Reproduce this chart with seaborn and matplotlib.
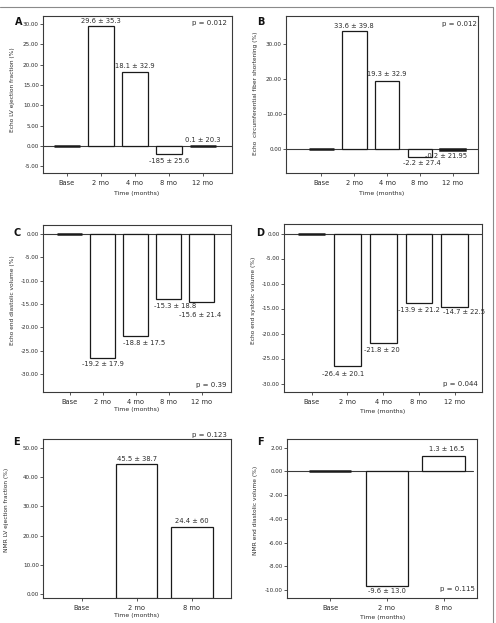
import numpy as np
import pandas as pd
import matplotlib
matplotlib.use("Agg")
import matplotlib.pyplot as plt
import seaborn as sns
from matplotlib.lines import Line2D

# ---------------- data ----------------
cats5 = ["Base", "2 mo", "4 mo", "8 mo", "12 mo"]
cats3 = ["Base", "2 mo", "8 mo"]

a_vals = [0.0, 29.6, 18.1, -1.85, 0.1]
a_text = ["", "29.6 ± 35.3", "18.1 ± 32.9", "-185 ± 25.6", "0.1 ± 20.3"]
b_vals = [0.0, 33.6, 19.3, -2.2, -0.2]
b_text = ["", "33.6 ± 39.8", "19.3 ± 32.9", "-2.2 ± 27.4", "-0.2 ± 21.95"]
c_vals = [0.0, -26.5, -21.9, -14.0, -14.6]
c_text = ["", "-19.2 ± 17.9", "-18.8 ± 17.5", "-15.3 ± 18.8", "-15.6 ± 21.4"]
d_vals = [0.0, -26.4, -21.8, -13.9, -14.7]
d_text = ["", "-26.4 ± 20.1", "-21.8 ± 20", "-13.9 ± 21.2", "-14.7 ± 22.5"]
e_vals = [np.nan, 44.3, 22.9]
e_text = ["", "45.5 ± 38.7", "24.4 ± 60"]
f_vals = [0.0, -9.6, 1.3]
f_text = ["", "-9.6 ± 13.0", "1.3 ± 16.5"]

a_ticks = [-5, 0, 5, 10, 15, 20, 25, 30]
b_ticks = [0, 10, 20, 30]
c_ticks = [0, -5, -10, -15, -20, -25, -30]
d_ticks = [0, -5, -10, -15, -20, -25, -30]
e_ticks = [0, 10, 20, 30, 40, 50]
f_ticks = [2, 0, -2, -4, -6, -8, -10]

p_values = ["p = 0.012", "p = 0.012", "p = 0.39", "p = 0.044", "p = 0.123", "p = 0.115"]
y_labels = ["Echo LV ejection fraction (%)",
            "Echo  circumferential fiber shortening (%)",
            "Echo end diastolic volume (%)",
            "Echo end systolic volume (%)",
            "NMR LV ejection fraction (%)",
            "NMR end diastolic volume (%)"]
letters = ["A", "B", "C", "D", "E", "F"]
x_label = "Time (months)"

# ---------------- layout ----------------
W, H = 496, 623
sns.set_theme(style="white")
plt.rcParams["font.family"] = ["DejaVu Sans"]
TXT = "#2b2b2b"
fig = plt.figure(figsize=(W / 100, H / 100), dpi=100)
fig.patch.set_facecolor("white")

def fx(x):
    return x / W

def fy(y):
    return 1 - y / H

panels = [
    dict(cats=cats5, vals=a_vals, text=a_text, ticks=a_ticks, box=(43, 16, 232, 173),
         ylim=(-6.65, 32.0), xlim=(-0.7, 4.85), zero=1.0,
         offs=[None, (0, 4.7), (0, 6.3), (0, -7), (0, 5.6)],
         pv=(227, 23.5), letter=(15, 22), ylab=(13, 90), xlab=(137, 193)),
    dict(cats=cats5, vals=b_vals, text=b_text, ticks=b_ticks, box=(286, 16, 478, 173),
         ylim=(-6.9, 37.9), xlim=(-1.08, 4.77), zero=1.0,
         offs=[None, (0, 5), (0, 7.3), (1.5, -6.4), (-7, -6)],
         pv=(477, 24), letter=(257, 22), ylab=(255, 93), xlab=(382, 194)),
    dict(cats=cats5, vals=c_vals, text=c_text, ticks=c_ticks, box=(43, 225, 231, 392),
         ylim=(-33.8, 1.86), xlim=(-0.81, 4.89), zero=1.0,
         offs=[None, (0, -6.6), (8, -6.3), (6, -6.4), (-1.7, -13)],
         pv=(227, 384.5), letter=(13, 233), ylab=(13, 300), xlab=(137, 409)),
    dict(cats=cats5, vals=d_vals, text=d_text, ticks=d_ticks, box=(284, 224, 482, 392),
         ylim=(-31.7, 1.9), xlim=(-0.77, 4.76), zero=1.0,
         offs=[None, (-4, -8.7), (-1, -7), (0, -7), (9.5, -4.7)],
         pv=(477.5, 384), letter=(256, 233), ylab=(254, 300), xlab=(383, 411)),
    dict(cats=cats3, vals=e_vals, text=e_text, ticks=e_ticks, box=(43, 439, 231, 598),
         ylim=(-1.26, 52.9), xlim=(-0.70, 2.71), zero=None,
         offs=[None, (0, 5.3), (0, 6.4)],
         pv=(227, 434.5), letter=(13, 442), ylab=(7, 510), xlab=(137, 616)),
    dict(cats=cats3, vals=f_vals, text=f_text, ticks=f_ticks, box=(287, 439, 477, 598),
         ylim=(-10.65, 2.72), xlim=(-0.76, 2.59), zero=0.98,
         offs=[None, (0, -5.7), (3, 6.7)],
         pv=(475, 588.5), letter=(257, 442), ylab=(255, 510), xlab=(383, 617)),
]

SP = "#3a3a3a"
for k, p in enumerate(panels):
    x0, y0, x1, y1 = p["box"]
    ax = fig.add_axes([fx(x0), fy(y1), fx(x1 - x0), (y1 - y0) / H])
    df = pd.DataFrame({"cat": p["cats"], "val": p["vals"]})
    sns.barplot(data=df, x="cat", y="val", order=p["cats"], color="white",
                edgecolor="#1a1a1a", linewidth=0.9, width=0.75, saturation=1,
                errorbar=None, ax=ax, zorder=3)
    ax.set_xlim(*p["xlim"])
    ax.set_ylim(*p["ylim"])
    for patch in ax.patches:
        h = patch.get_height()
        if np.isfinite(h) and abs(h) < 0.35:
            patch.set_linewidth(1.8)
    if p["zero"] is None:
        # bars rise from the lower frame
        lo = p["ylim"][0]
        for patch in ax.patches:
            h = patch.get_height()
            if np.isfinite(h):
                patch.set_y(lo)
                patch.set_height(h - lo)
    else:
        ax.axhline(0, xmin=0, xmax=p["zero"], color=SP, lw=0.8, zorder=2)

    ax.set_yticks(p["ticks"])
    ax.set_yticklabels([f"{t:.2f}" for t in p["ticks"]])
    ax.set_xlabel("")
    ax.set_ylabel("")
    ax.tick_params(axis="y", length=2, width=0.6, pad=1, labelsize=4.1,
                   colors=SP, left=True, direction="out")
    ax.tick_params(axis="x", length=2, width=0.6, pad=3, labelsize=4.8,
                   colors=SP, bottom=True, direction="out")
    for lab in ax.get_xticklabels() + ax.get_yticklabels():
        lab.set_color(TXT)
    for s in ax.spines.values():
        s.set_color(SP)
        s.set_linewidth(0.8)
        s.set_visible(True)
    ax.set_facecolor("white")

    # value labels
    for i, (v, t, off) in enumerate(zip(p["vals"], p["text"], p["offs"])):
        if off is None or not t:
            continue
        dx, dy = off
        ax.annotate(t, xy=(i, v), xytext=(dx * 0.72, dy * 0.72),
                    textcoords="offset points", ha="center", va="center",
                    fontsize=4.9, color=TXT, zorder=5, annotation_clip=False)

    px, py = p["pv"]
    fig.text(fx(px), fy(py), p_values[k], ha="right", va="center",
             fontsize=5.0, color=TXT)
    lx, ly = p["letter"]
    fig.text(fx(lx), fy(ly), letters[k], ha="left", va="center",
             fontsize=7, fontweight="bold", color="#111111")
    yx, yy = p["ylab"]
    fig.text(fx(yx), fy(yy), y_labels[k], ha="center", va="center",
             rotation=90, fontsize=4.2, color=TXT)
    xx, xy = p["xlab"]
    fig.text(fx(xx), fy(xy), x_label, ha="center", va="center",
             fontsize=4.4, color=TXT)

# outer frame (top and right rules)
fig.add_artist(Line2D([0, fx(493)], [fy(7), fy(7)], color="#8a8a8a", lw=0.8,
                      transform=fig.transFigure))
fig.add_artist(Line2D([fx(493), fx(493)], [fy(7), 0], color="#8a8a8a", lw=0.8,
                      transform=fig.transFigure))

fig.savefig("out.png", dpi=100, facecolor="white")
